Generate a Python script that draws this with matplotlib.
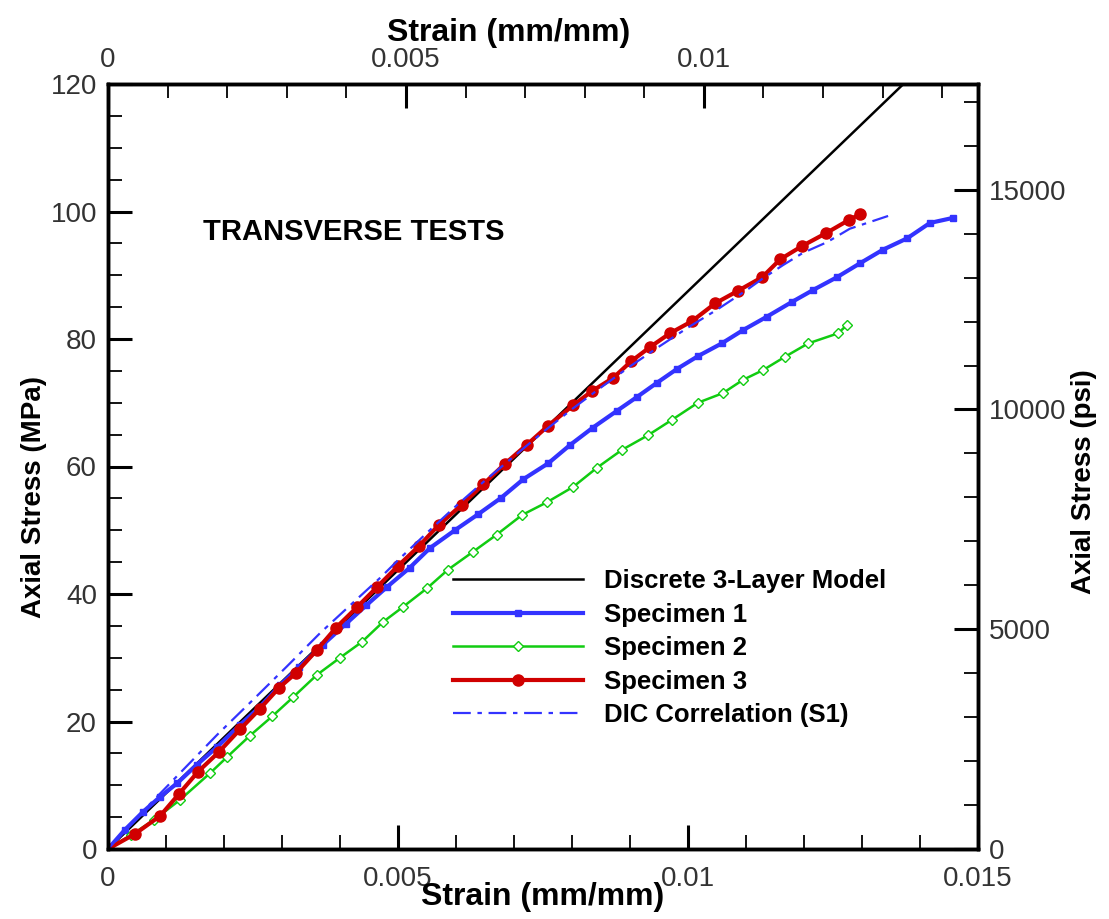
import matplotlib
matplotlib.use('Agg')
from matplotlib import pyplot as plt
from matplotlib.ticker import MultipleLocator, FixedLocator

# Discrete 3-layer model (straight line)
model_strain = [0, 0.0140]
model_stress = [0, 122.5]

# Specimen 1
s1_strain = [0, 0.00029, 0.0006, 0.0009, 0.00119, 0.00153, 0.00188, 0.00228, 0.00262, 0.00297,
             0.0033, 0.0037, 0.0041, 0.00445, 0.00481, 0.0052, 0.00555, 0.00598, 0.00638, 0.00678,
             0.00716, 0.00759, 0.00797, 0.00836, 0.00877, 0.00912, 0.00946, 0.00981, 0.01017, 0.01058,
             0.01095, 0.01136, 0.01179, 0.01216, 0.01257, 0.01297, 0.01336, 0.01378, 0.01417, 0.01457]
s1_stress = [0, 3.0, 5.8, 8.2, 10.3, 13.2, 16.0, 19.5, 22.3, 25.7,
             28.6, 32.0, 35.3, 38.2, 41.1, 44.1, 47.2, 50.0, 52.5, 55.1,
             58.0, 60.5, 63.4, 66.1, 68.7, 70.9, 73.1, 75.3, 77.3, 79.3,
             81.4, 83.5, 85.8, 87.7, 89.7, 91.9, 94.0, 95.8, 98.2, 99.0]

# Specimen 2
s2_strain = [0, 0.0004, 0.0008, 0.00124, 0.00176, 0.00205, 0.00245, 0.00283, 0.00319, 0.0036,
             0.004, 0.00438, 0.00474, 0.00509, 0.0055, 0.00586, 0.00629, 0.0067, 0.00714, 0.00757,
             0.00802, 0.00843, 0.00886, 0.00931, 0.00972, 0.01017, 0.0106, 0.01095, 0.01129, 0.01167,
             0.01207, 0.01259, 0.01274]
s2_stress = [0, 2.2, 4.6, 7.7, 11.9, 14.4, 17.8, 20.8, 23.8, 27.3,
             30.0, 32.5, 35.6, 38.0, 40.9, 43.8, 46.6, 49.3, 52.4, 54.4,
             56.8, 59.8, 62.6, 64.9, 67.3, 70.0, 71.5, 73.6, 75.1, 77.2,
             79.3, 80.9, 82.2]

# Specimen 3
s3_strain = [0, 0.00047, 0.0009, 0.00122, 0.00155, 0.00191, 0.00228, 0.00262, 0.00295, 0.00324,
             0.0036, 0.00393, 0.00429, 0.00464, 0.005, 0.00536, 0.0057, 0.0061, 0.00647, 0.00684,
             0.00722, 0.00759, 0.00802, 0.00834, 0.00871, 0.00902, 0.00934, 0.00969, 0.01007, 0.01047,
             0.01087, 0.01128, 0.01159, 0.01197, 0.01238, 0.01278, 0.01297]
s3_stress = [0, 2.4, 5.2, 8.6, 12.1, 15.2, 18.8, 22.0, 25.3, 27.6,
             31.2, 34.7, 37.9, 41.1, 44.4, 47.5, 50.8, 54.0, 57.2, 60.4,
             63.4, 66.4, 69.6, 71.8, 73.9, 76.5, 78.7, 80.9, 82.8, 85.6,
             87.6, 89.7, 92.5, 94.6, 96.6, 98.7, 99.6]

# DIC correlation (S1)
dic_strain = [0, 0.0006, 0.00124, 0.00188, 0.0025, 0.00308, 0.00366, 0.00422, 0.0047, 0.005,
              0.0055, 0.006, 0.0065, 0.007, 0.0075, 0.008, 0.0085, 0.009, 0.0095, 0.010,
              0.0105, 0.011, 0.01129, 0.01164, 0.01198, 0.0124, 0.01279, 0.01345]
dic_stress = [0, 5.9, 11.9, 17.9, 23.4, 28.6, 33.9, 38.6, 42.6, 45.3,
              49.6, 53.8, 57.8, 61.6, 65.4, 69.0, 72.4, 75.7, 78.8, 81.8,
              84.6, 87.6, 89.5, 91.6, 93.5, 95.2, 97.3, 99.3]

MPA_TO_PSI = 145.038
TOP_MAX = 0.0146

BLUE = '#3333ff'
GREEN = '#11cc11'
RED = '#d00000'
TICK_COL = '#333333'

plt.rcParams['font.family'] = ['Liberation Sans', 'DejaVu Sans']

fig = plt.figure(figsize=(11.09, 9.19), dpi=100)
ax = fig.add_axes([108 / 1109, 70 / 919, 870 / 1109, 765 / 919])

ax.plot(model_strain, model_stress, color='black', lw=1.8, label='Discrete 3-Layer Model')
ax.plot(s1_strain, s1_stress, color=BLUE, lw=3, marker='s', ms=4.5, label='Specimen 1')
ax.plot(s2_strain, s2_stress, color=GREEN, lw=1.8, marker='D', ms=5, mfc='white',
        mec=GREEN, mew=1, label='Specimen 2')
ax.plot(s3_strain, s3_stress, color=RED, lw=3, marker='o', ms=8, label='Specimen 3')
ax.plot(dic_strain, dic_stress, color=BLUE, lw=1.6, ls=(0, (8, 3, 2, 3)),
        label='DIC Correlation (S1)')

ax.set_xlim(0, 0.015)
ax.set_ylim(0, 120)
ax.xaxis.set_major_locator(FixedLocator([0, 0.005, 0.01, 0.015]))
ax.xaxis.set_minor_locator(MultipleLocator(0.001))
ax.yaxis.set_major_locator(MultipleLocator(20))
ax.yaxis.set_minor_locator(MultipleLocator(5))
ax.set_xticklabels(['0', '0.005', '0.01', '0.015'])

# right axis in psi
axr = ax.twinx()
axr.set_ylim(0, 120 * MPA_TO_PSI)
axr.yaxis.set_major_locator(MultipleLocator(5000))
axr.yaxis.set_minor_locator(MultipleLocator(1000))

# top strain axis
axt = ax.twiny()
axt.set_xlim(0, TOP_MAX)
axt.xaxis.set_major_locator(FixedLocator([0, 0.005, 0.01]))
axt.xaxis.set_minor_locator(MultipleLocator(0.001))
axt.set_xticklabels(['0', '0.005', '0.01'])

for a in (ax, axr, axt):
    a.tick_params(which='major', direction='in', length=17, width=2.2,
                  labelsize=20, labelcolor=TICK_COL, pad=8)
    a.tick_params(which='minor', direction='in', length=10, width=1.3)
    for sp in a.spines.values():
        sp.set_linewidth(2.4)
ax.tick_params(axis='x', which='major', pad=12)

ax.set_xlabel('Strain (mm/mm)', fontsize=23, fontweight='bold')
ax.set_ylabel('Axial Stress (MPa)', fontsize=20, fontweight='bold')
axr.set_ylabel('Axial Stress (psi)', fontsize=20, fontweight='bold')
axt.set_xlabel('Strain (mm/mm)', fontsize=23, fontweight='bold')
ax.xaxis.set_label_coords(0.5, -0.043)
ax.yaxis.set_label_coords(-0.07, 0.46)
axt.xaxis.set_label_coords(0.461, 1.056)
axr.yaxis.set_label_coords(1.107, 0.48)

ax.text(0.109, 0.806, 'TRANSVERSE TESTS', transform=ax.transAxes,
        fontsize=21, fontweight='bold', va='center')

leg = ax.legend(loc='upper left', bbox_to_anchor=(0.397, 0.366), frameon=False,
                prop={'size': 18.5, 'weight': 'bold'}, handlelength=5.06,
                handletextpad=0.82, labelspacing=0.37,
                borderaxespad=0, borderpad=0)
for h in leg.legend_handles:
    h.set_markevery([1])

fig.savefig('out.png', dpi=100)
